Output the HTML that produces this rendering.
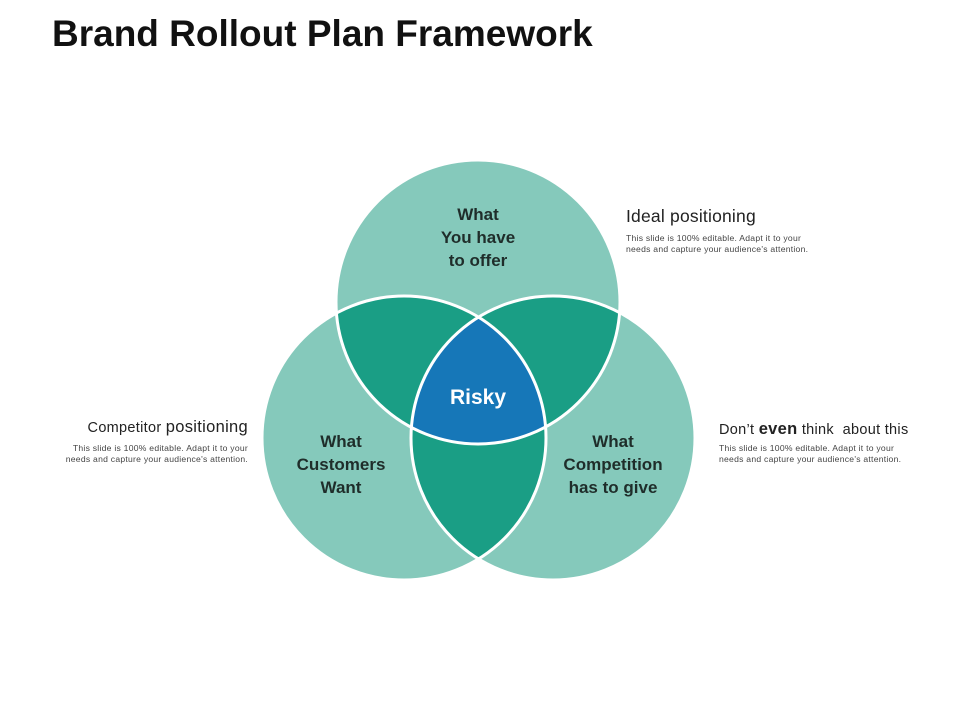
<!DOCTYPE html>
<html><head><meta charset="utf-8"><style>
html,body{margin:0;padding:0;background:#fff;}
body{width:960px;height:720px;position:relative;overflow:hidden;font-family:"Liberation Sans",Arial,sans-serif;}
.t{position:absolute;white-space:nowrap;}
.s{font-size:8.6px;line-height:10.5px;color:#444;letter-spacing:0.25px;}
</style></head><body>
<div class="t" style="left:52px;top:13px;font-size:37px;font-weight:bold;color:#111;">Brand Rollout Plan Framework</div>
<svg width="960" height="720" style="position:absolute;left:0;top:0">
<defs>
<clipPath id="cT"><circle cx="478" cy="302" r="142"/></clipPath>
<clipPath id="cL"><circle cx="404" cy="438" r="142"/></clipPath>
<clipPath id="cR"><circle cx="553" cy="438" r="142"/></clipPath>
</defs>
<g fill="#85c9bb">
<circle cx="478" cy="302" r="142"/><circle cx="404" cy="438" r="142"/><circle cx="553" cy="438" r="142"/>
</g>
<g fill="#1a9e85">
<g clip-path="url(#cT)"><circle cx="404" cy="438" r="142"/><circle cx="553" cy="438" r="142"/></g>
<g clip-path="url(#cL)"><circle cx="553" cy="438" r="142"/></g>
</g>
<g clip-path="url(#cT)"><g clip-path="url(#cL)"><circle cx="553" cy="438" r="142" fill="#1677b8"/></g></g>
<g fill="none" stroke="#fff" stroke-width="3">
<circle cx="478" cy="302" r="142"/><circle cx="404" cy="438" r="142"/><circle cx="553" cy="438" r="142"/>
</g>
<g font-family="Liberation Sans, Arial, sans-serif" font-weight="bold" font-size="17" fill="#1f2d2a" text-anchor="middle">
<text x="478" y="220">What</text><text x="478" y="243">You have</text><text x="478" y="266">to offer</text>
<text x="341" y="447">What</text><text x="341" y="470">Customers</text><text x="341" y="493">Want</text>
<text x="613" y="447">What</text><text x="613" y="470">Competition</text><text x="613" y="493">has to give</text>
<text x="478" y="404" font-size="21" fill="#fff">Risky</text>
</g>
</svg>
<div class="t" style="left:626px;top:206px;font-size:17.5px;letter-spacing:0.2px;color:#222;">Ideal positioning</div>
<div class="t s" style="left:626px;top:233px;">This slide is 100% editable. Adapt it to your<br>needs and capture your audience's attention.</div>
<div class="t" style="left:719px;top:420px;font-size:14.5px;letter-spacing:0.3px;color:#222;">Don’t <span style="font-size:16.5px;font-weight:bold">even</span> think &nbsp;about this</div>
<div class="t s" style="left:719px;top:443px;">This slide is 100% editable. Adapt it to your<br>needs and capture your audience's attention.</div>
<div class="t" style="left:40px;top:418px;width:208px;text-align:right;font-size:14.5px;letter-spacing:0.3px;color:#222;">Competitor <span style="font-size:16.5px">positioning</span></div>
<div class="t s" style="left:20px;top:443px;width:228px;text-align:right;">This slide is 100% editable. Adapt it to your<br>needs and capture your audience's attention.</div>
</body></html>
